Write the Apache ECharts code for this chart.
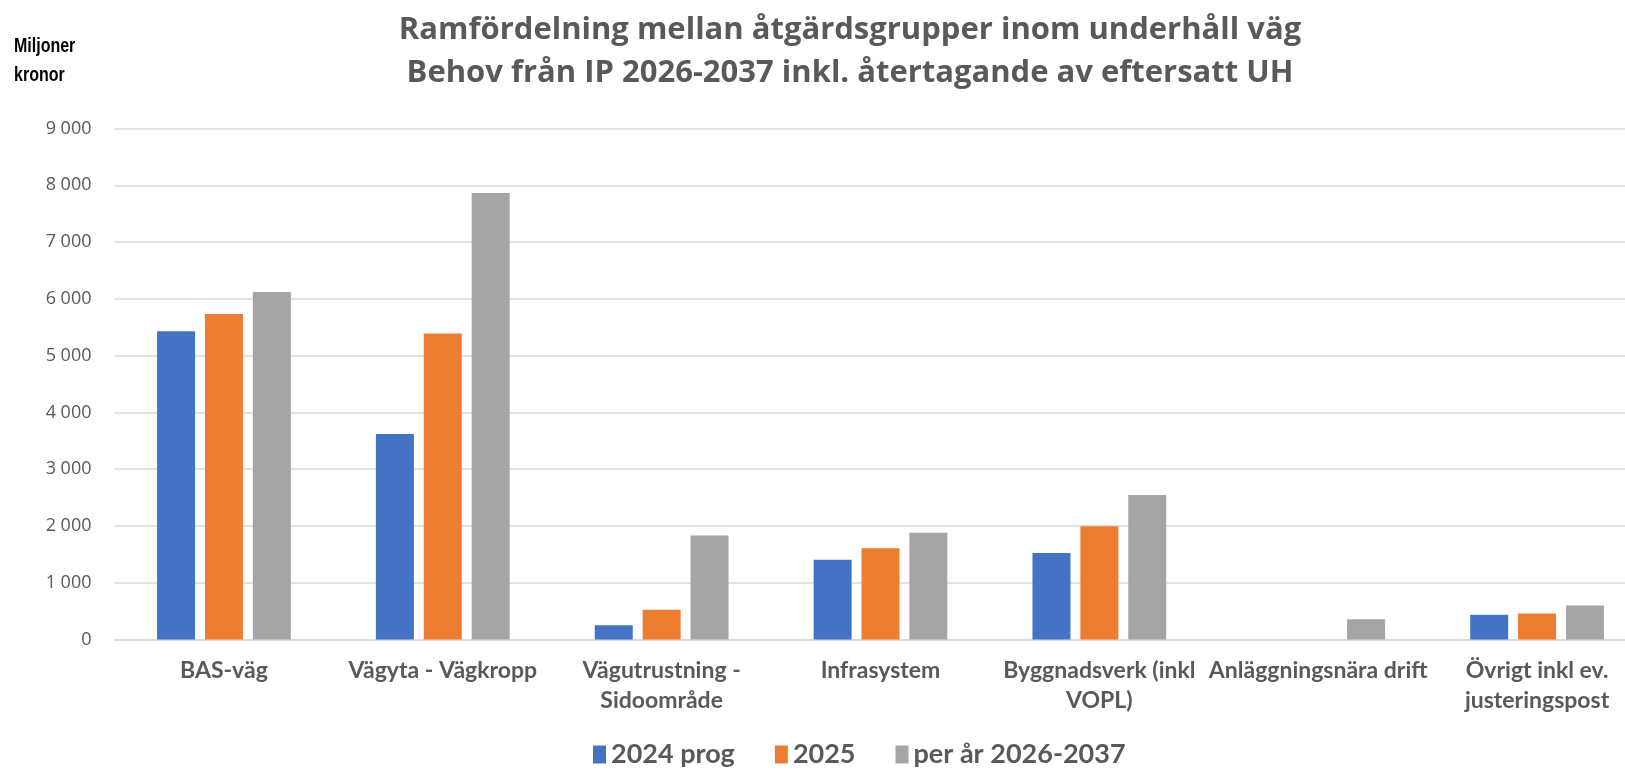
<!DOCTYPE html>
<html><head><meta charset="utf-8">
<script src="https://cdn.jsdelivr.net/npm/echarts@6/dist/echarts.min.js"></script>
<style>html,body{margin:0;padding:0;background:#fff}#c{width:1625px;height:770px}</style>
</head><body><div id="c"></div>
<script>
const categories = ["BAS-väg", "Vägyta - Vägkropp", "Vägutrustning -\nSidoområde", "Infrasystem", "Byggnadsverk (inkl\nVOPL)", "Anläggningsnära drift", "Övrigt inkl ev.\njusteringspost"];
const seriesNames = ["2024 prog", "2025", "per år 2026-2037"];
const prog2024 = [5430, 3620, 250, 1405, 1525, null, 435];
const y2025 = [5735, 5390, 525, 1605, 1995, null, 460];
const perAr = [6120, 7865, 1830, 1880, 2545, 355, 600];
const titleLines = ["Ramfördelning mellan åtgärdsgrupper inom underhåll väg", "Behov från IP 2026-2037 inkl. återtagande av eftersatt UH"];
const yAxisName = "Miljoner\nkronor";

const colors = ["#4472C4", "#ED7D31", "#A5A5A5"];
const chart = echarts.init(document.getElementById('c'));
const fmt = v => String(v).replace(/\B(?=(\d{3})+(?!\d))/g, ' ');
const data = [prog2024, y2025, perAr];
chart.setOption({
  animation: false,
  color: colors,
  graphic: [
    { type: 'text', x: 850, y: 9, style: { text: titleLines.join('\n'), align: 'center', verticalAlign: 'top', fontFamily: 'Open Sans', fontWeight: 'bold', fontSize: 31, fill: '#595959', lineHeight: 43 } },
    { type: 'text', x: 14, y: 32, scaleX: 0.8, style: { text: yAxisName, fontFamily: 'Liberation Sans', fontWeight: 'bold', fontSize: 20, fill: '#000', lineHeight: 29 } }
  ],
  grid: { left: 114.5, width: 1532, top: 128.5, bottom: 130.5, containLabel: false, outerBoundsMode: 'none' },
  legend: {
    top: 736, left: 588,
    itemWidth: 13, itemHeight: 18, itemGap: 40,
    icon: 'rect',
    textStyle: { fontFamily: 'Lato', fontWeight: 'bold', fontSize: 27, color: '#595959' },
    data: seriesNames
  },
  xAxis: {
    type: 'category', data: categories,
    axisLine: { lineStyle: { color: '#D9D9D9', width: 1.5 } },
    axisTick: { show: false },
    axisLabel: { interval: 0, hideOverlap: false, fontFamily: 'Lato', fontWeight: 'bold', fontSize: 23, color: '#595959', lineHeight: 30, margin: 16 }
  },
  yAxis: {
    type: 'value', min: 0, max: 9000, interval: 1000,
    axisLine: { show: false }, axisTick: { show: false },
    splitLine: { lineStyle: { color: '#D9D9D9', width: 1.5 } },
    axisLabel: { formatter: fmt, fontFamily: 'Open Sans', fontSize: 18, color: '#595959', margin: 23 }
  },
  series: seriesNames.map((n, i) => ({
    name: n, type: 'bar', data: data[i], barWidth: 38, barGap: '26%', barCategoryGap: '38%',
    itemStyle: { color: colors[i] }
  }))
});
</script></body></html>
